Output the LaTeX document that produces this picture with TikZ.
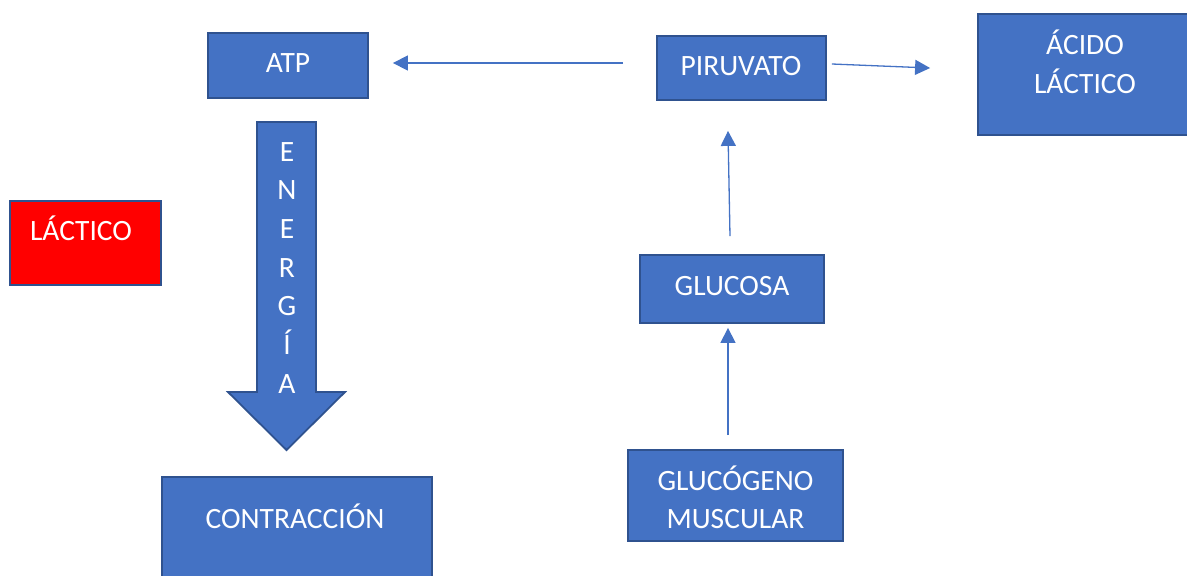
\documentclass[tikz,border=0pt]{standalone}
\usepackage{fontspec}
\setmainfont{Carlito}
\usetikzlibrary{arrows.meta,calc}
\definecolor{boxblue}{HTML}{4472C4}
\definecolor{boxedge}{HTML}{2F528F}
\definecolor{boxred}{HTML}{FF0000}
\newcommand{\stacklines}[1]{\begin{tabular}[t]{@{}c@{}}#1\end{tabular}}
\begin{document}
\begin{tikzpicture}[x=1pt,y=-1pt,
  box/.style={draw=boxedge,fill=boxblue,line width=1.8pt,inner sep=0pt,rectangle},
  lbl/.style={text=white,inner sep=0pt,anchor=base,font=\fontsize{29.5}{39}\selectfont},
  conn/.style={draw=boxblue,line width=1.3pt,-{Triangle[length=15pt,width=15pt]}}]
\useasboundingbox (0,0) rectangle (1187,576);
% boxes
\node[box,minimum width=160pt,minimum height=65pt] (atp) at (288,65.5) {};
\node[box,minimum width=169pt,minimum height=64pt] (piruvato) at (741.5,68) {};
\node[box,minimum width=211pt,minimum height=121pt] (acido) at (1083.5,74.5) {};
\node[box,fill=boxred,line width=1.5pt,minimum width=151pt,minimum height=84pt] (lactico) at (85.5,243) {};
\node[box,minimum width=184pt,minimum height=68pt] (glucosa) at (732,289) {};
\node[box,minimum width=215pt,minimum height=91pt] (glucogeno) at (735.5,495.5) {};
\node[box,minimum width=270pt,minimum height=124pt] (contraccion) at (297,539) {};
% big arrow
\draw[draw=boxedge,fill=boxblue,line width=1.8pt,line join=miter]
  (257,122) -- (316,122) -- (316,392) -- (345,392) -- (286.5,450) -- (228,392) -- (257,392) -- cycle;
% labels
\node[lbl] (tatp) at (288,72) {ATP};
\node[lbl] (tpir) at (741,75) {PIRUVATO};
\node[lbl] (tacido) at (1085,54) {\stacklines{ÁCIDO\\LÁCTICO}};
\node[lbl] (tlac) at (81,240) {LÁCTICO};
\node[lbl] (tglu) at (732,295) {GLUCOSA};
\node[lbl,font=\fontsize{29.5}{38}\selectfont] (tgluc) at (735.5,490) {\stacklines{GLUCÓGENO\\MUSCULAR}};
\node[lbl] (tcon) at (295,528) {CONTRACCIÓN};
\node[lbl,font=\fontsize{29.5}{38.7}\selectfont] (tener) at (287,161) {\stacklines{E\\N\\E\\R\\G\\Í\\A}};
% connectors
\draw[conn] ($(piruvato.west)+(-33,-5)$) -- ($(atp.east)+(24,-2.5)$);
\draw[conn] ($(piruvato.east)+(5,-4)$) -- ($(acido.west)+(-47,-6.5)$);
\draw[conn] ($(glucosa.north)+(-2,-18)$) -- ($(piruvato.south)+(-13.5,30)$);
\draw[conn] ($(glucogeno.north)+(-7.5,-14)$) -- ($(glucosa.south)+(-4,4)$);
\end{tikzpicture}
\end{document}
